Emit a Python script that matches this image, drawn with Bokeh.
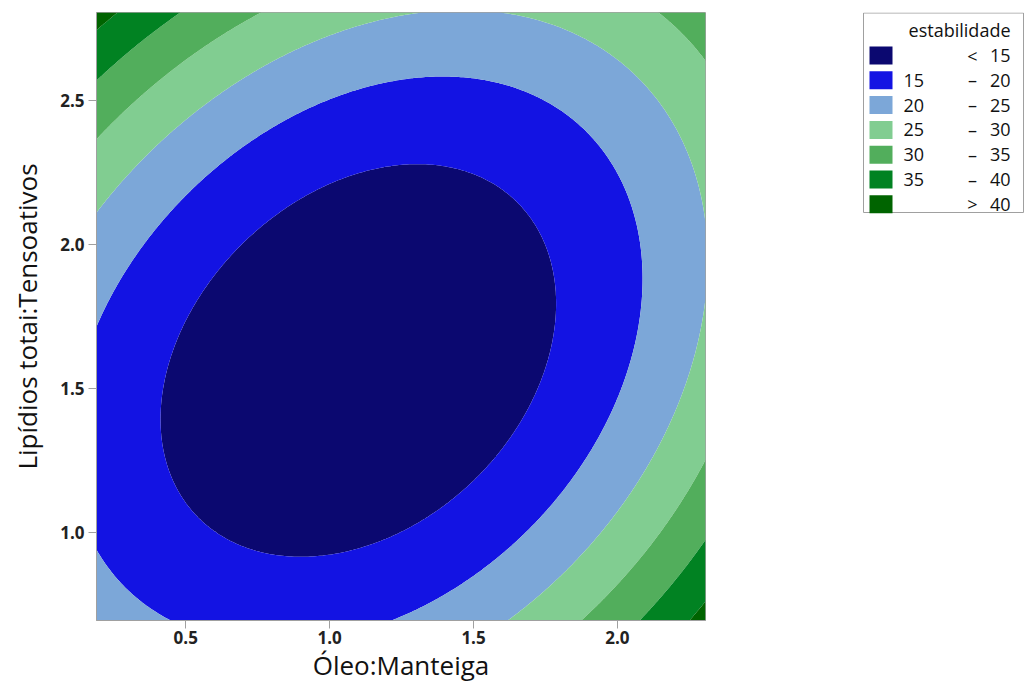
import numpy as np
from bokeh.plotting import figure
from bokeh.models import Range1d, FixedTicker, NumeralTickFormatter
from bokeh.layouts import row
from bokeh.core.properties import value
from bokeh.embed import file_html
from bokeh.resources import INLINE

# ---- data (contour crossings of the response surface) ----
x_limits = [0.19, 2.306]
y_limits = [0.694, 2.806]
x_ticks = [0.5, 1.0, 1.5, 2.0]
y_ticks = [1.0, 1.5, 2.0, 2.5]

levels = [15, 20, 25, 30, 35, 40]
colors = ["#0B0870", "#1313E3", "#7CA7D8", "#81CD91", "#52AE5C", "#018222", "#006400"]

c15_x = [1.795, 0.405, 1.31, 0.92, 1.737, 1.476, 1.243, 0.94, 0.594, 1.52, 1.70]
c15_y = [1.806, 1.46, 2.29, 0.91, 1.528, 1.146, 0.99, 2.20, 1.92, 2.25, 2.13]
c20_x = [2.09, 0.19, 0.19, 0.455, 1.233, 1.42, 1.939, 1.706, 0.63, 0.31, 1.807, 1.969]
c20_y = [1.94, 1.747, 0.96, 0.694, 0.694, 2.585, 1.337, 1.042, 2.30, 1.92, 2.476, 2.303]
c25_x = [0.19, 1.29, 1.59, 2.306, 1.62, 1.939, 0.48, 0.83, 2.02, 2.217, 2.228, 2.07]
c25_y = [2.11, 2.806, 2.806, 1.95, 0.694, 0.997, 2.36, 2.61, 2.61, 2.36, 1.458, 1.17]
c30_x = [0.749, 0.19, 2.14, 2.306, 1.88, 2.306, 1.939, 0.42, 2.113, 2.287]
c30_y = [2.806, 2.372, 2.806, 2.646, 0.694, 1.243, 0.757, 2.56, 0.997, 1.226]
c35_x = [0.47, 0.19, 2.076, 2.306, 2.137, 0.31]
c35_y = [2.806, 2.57, 0.694, 0.965, 0.81, 2.70]
c40_x = [0.256, 0.19, 2.28, 2.306]
c40_y = [2.806, 2.74, 0.694, 0.75]

x_title = "Óleo:Manteiga"
y_title = "Lipídios totai:Tensoativos"
legend_title = "estabilidade"

# ---- fit a smooth polynomial surface to the read contour points ----
px = np.array(c15_x + c20_x + c25_x + c30_x + c35_x + c40_x)
py = np.array(c15_y + c20_y + c25_y + c30_y + c35_y + c40_y)
pz = np.array([15] * len(c15_x) + [20] * len(c20_x) + [25] * len(c25_x)
              + [30] * len(c30_x) + [35] * len(c35_x) + [40] * len(c40_x), dtype=float)


def terms(x, y):
    return [np.ones_like(x), x, y, x * x, y * y, x * y,
            x ** 3, y ** 3, x * x * y, x * y * y]


A = np.column_stack(terms(px, py))
coef, *_ = np.linalg.lstsq(A, pz, rcond=None)

xg = np.linspace(x_limits[0], x_limits[1], 260)
yg = np.linspace(y_limits[0], y_limits[1], 260)
XG, YG = np.meshgrid(xg, yg)
ZG = sum(c * t for c, t in zip(coef, terms(XG, YG)))

font = "Open Sans"
ink = "#111111"

MAIN_W, H = 860, 687
p = figure(width=MAIN_W, height=H, output_backend="svg", toolbar_location=None,
           title=None,
           x_range=Range1d(*x_limits), y_range=Range1d(*y_limits),
           min_border_left=96, min_border_right=MAIN_W - 96 - 609,
           min_border_top=12, min_border_bottom=H - 12 - 608)
p.contour(x=xg, y=yg, z=ZG,
          levels=[float(ZG.min()) - 1] + levels + [float(ZG.max()) + 1],
          fill_color=colors, line_color=None)

p.grid.visible = False
p.outline_line_color = "#A0A0A0"
p.outline_line_width = 1
p.background_fill_color = "white"
p.border_fill_color = "white"

for ax, ticks in ((p.xaxis[0], x_ticks), (p.yaxis[0], y_ticks)):
    ax.ticker = FixedTicker(ticks=ticks)
    ax.formatter = NumeralTickFormatter(format="0.0")
    ax.axis_line_color = "#A0A0A0"
    ax.major_tick_line_color = "#A0A0A0"
    ax.major_tick_out = 8
    ax.major_tick_in = 0
    ax.minor_tick_line_color = None
    ax.major_label_text_font = font
    ax.major_label_text_font_size = "17px"
    ax.major_label_text_font_style = "bold"
    ax.major_label_text_color = "#222222"
    ax.axis_label_text_font = font
    ax.axis_label_text_font_size = "26px"
    ax.axis_label_text_font_style = "normal"
    ax.axis_label_text_color = ink

p.yaxis.major_label_standoff = 4
p.yaxis.axis_label = y_title
p.yaxis.axis_label_standoff = 12

p.xaxis.major_label_standoff = 2
p.xaxis.axis_label = x_title
p.xaxis.axis_label_standoff = 0

# ---- legend drawn as its own small figure (data units = page pixels) ----
LW, LTOP, LH = 165, 12, 220
leg = figure(frame_width=LW, frame_height=LH, output_backend="svg", toolbar_location=None,
             title=None,
             x_range=Range1d(0, LW), y_range=Range1d(LTOP + LH, LTOP),
             x_axis_location=None, y_axis_location=None,
             min_border=0, min_border_top=LTOP, outline_line_color=None)
leg.grid.visible = False
leg.quad(left=[3], right=[163], top=[12.5], bottom=[212], fill_color="white",
         line_color="#A0A0A0", line_width=1)
leg.text(x=[150], y=[29], text=[legend_title], text_align="right", text_baseline="middle",
         text_font=value(font), text_font_size="18px", text_color=ink)

n = len(colors)
row_y = [55 + 24.8 * i for i in range(n)]
leg.rect(x=[20.5] * n, y=row_y, width=23, height=18, fill_color=colors, line_color=None)
left_lab = [""] + [str(v) for v in levels[:-1]] + [""]
mid_lab = ["<"] + ["–"] * (n - 2) + [">"]
right_lab = [str(levels[0])] + [str(v) for v in levels[1:]] + [str(levels[-1])]
leg.text(x=[43] * n, y=row_y, text=left_lab, text_align="left", text_baseline="middle",
         text_font=value(font), text_font_size="18px", text_color=ink)
leg.text(x=[112] * n, y=row_y, text=mid_lab, text_align="center", text_baseline="middle",
         text_font=value(font), text_font_size="18px", text_color=ink)
leg.text(x=[150] * n, y=row_y, text=right_lab, text_align="right", text_baseline="middle",
         text_font=value(font), text_font_size="18px", text_color=ink)

layout = row(p, leg)
open("out.html", "w").write(file_html(layout, INLINE))
